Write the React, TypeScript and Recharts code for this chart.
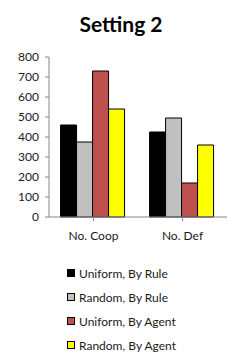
import { BarChart, Bar, XAxis, YAxis, Legend } from "recharts";

const categories = ["No. Coop", "No. Def"];
const uniformByRule = [460, 425];
const randomByRule = [375, 495];
const uniformByAgent = [730, 170];
const randomByAgent = [540, 360];
const yTicks = [0, 100, 200, 300, 400, 500, 600, 700, 800];

const series = [
  { key: "uniformRule", name: "Uniform, By Rule", values: uniformByRule, color: "#000000" },
  { key: "randomRule", name: "Random, By Rule", values: randomByRule, color: "#C0C0C0" },
  { key: "uniformAgent", name: "Uniform, By Agent", values: uniformByAgent, color: "#C0504D" },
  { key: "randomAgent", name: "Random, By Agent", values: randomByAgent, color: "#FFFF00" },
];

const data = categories.map((c, i) => {
  const row: Record<string, string | number> = { category: c };
  series.forEach((s) => (row[s.key] = s.values[i]));
  return row;
});

const font = "Lato, 'Open Sans', sans-serif";

function LegendList() {
  return (
    <div style={{ fontFamily: font, fontSize: 12, color: "#1a1a1a" }}>
      {series.map((s) => (
        <div key={s.key} style={{ display: "flex", alignItems: "center", height: 24 }}>
          <span
            style={{
              width: 6,
              height: 6,
              background: s.color,
              border: "1px solid #000",
              marginRight: 4,
            }}
          />
          {s.name}
        </div>
      ))}
    </div>
  );
}

export default function App() {
  return (
    <div style={{ position: "absolute", left: 0, top: 0, width: 242, height: 364, background: "#fff" }}>
      <div
        style={{
          position: "absolute",
          top: 11,
          width: 242,
          textAlign: "center",
          fontFamily: font,
          fontWeight: "bold",
          fontSize: 21,
          color: "#000",
        }}
      >
        Setting 2
      </div>
      <BarChart
        width={242}
        height={364}
        data={data}
        margin={{ top: 57, right: 15, bottom: 117, left: 0 }}
        barCategoryGap="13%"
        barGap={0}
      >
        <XAxis
          dataKey="category"
          height={30}
          stroke="#868686"
          tickSize={4}
          tick={{ fontSize: 12, fill: "#1a1a1a", fontFamily: font }}
          tickMargin={10}
        />
        <YAxis
          width={49}
          domain={[0, 800]}
          ticks={yTicks}
          interval={0}
          stroke="#868686"
          tickSize={4}
          tickMargin={6}
          tick={{ fontSize: 12, fill: "#1a1a1a", fontFamily: font }}
        />
        <Legend
          layout="vertical"
          align="center"
          verticalAlign="middle"
          wrapperStyle={{ top: 261, left: 67, width: "auto" }}
          content={() => <LegendList />}
        />
        {series.map((s) => (
          <Bar
            key={s.key}
            dataKey={s.key}
            name={s.name}
            fill={s.color}
            stroke="#000"
            strokeWidth={1}
            isAnimationActive={false}
          />
        ))}
      </BarChart>
    </div>
  );
}
